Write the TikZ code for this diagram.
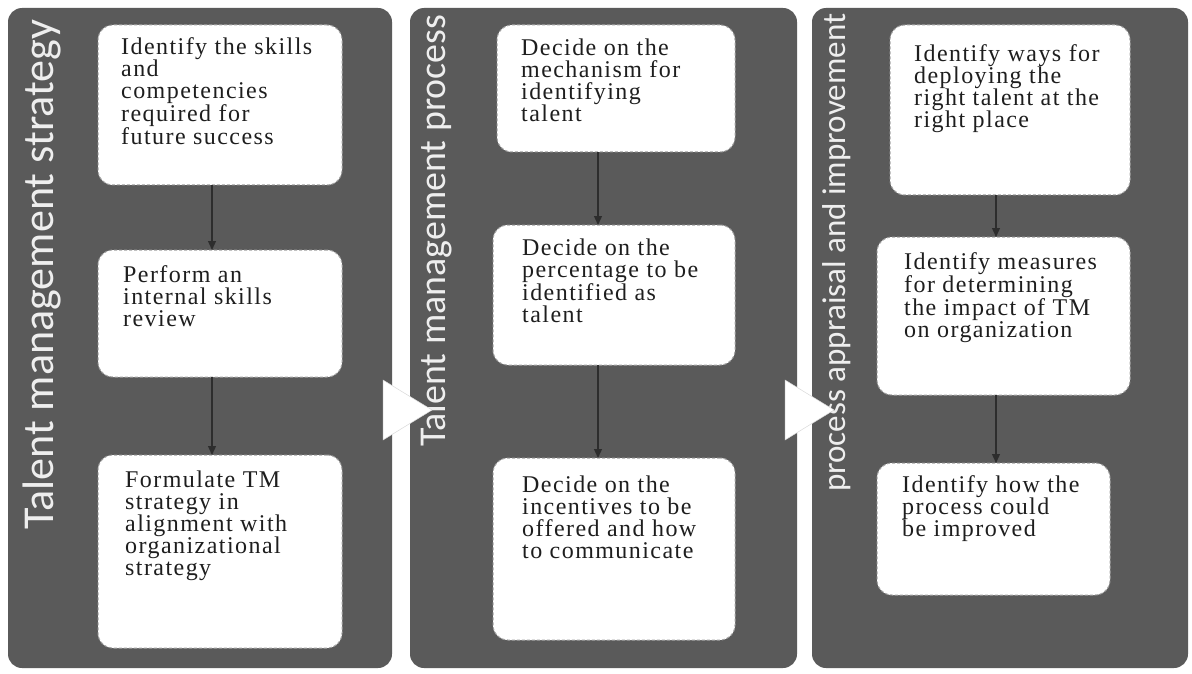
\documentclass[tikz,border=0pt]{standalone}
\usepackage{fontspec}
\setmainfont{Liberation Serif}
\newfontfamily\labelfont{Carlito}
\newfontfamily\boxfont{Liberation Serif}[LetterSpace=6]
\usetikzlibrary{arrows.meta}
\definecolor{panelgray}{RGB}{90,90,90}
\definecolor{textdark}{RGB}{30,30,30}
\definecolor{dashgray}{RGB}{160,160,160}
\definecolor{labelwhite}{RGB}{238,238,238}
\definecolor{arrowgray}{RGB}{45,45,45}
\tikzset{
  panel/.style={fill=panelgray, rounded corners=14pt, anchor=north west, inner sep=0pt, outer sep=0pt},
  stepbox/.style={fill=white, draw=dashgray, line width=1pt, dash pattern=on 3pt off 2pt, rounded corners=15pt, anchor=north west, inner sep=0pt, outer sep=0pt},
  boxtext/.style={anchor=north west, inner sep=0pt, align=left, text=textdark, font=\boxfont\fontsize{24pt}{22pt}\selectfont},
  lbl/.style={rotate=90, anchor=base west, inner sep=0pt, text=labelwhite, font=\labelfont},
  arr/.style={draw=arrowgray, line width=1.3pt, -{Triangle[length=9pt,width=8pt]}},
  tri/.style={fill=white, draw=white!85!black, line width=0.5pt}
}
\begin{document}
\begin{tikzpicture}[x=1pt, y=-1pt]
\useasboundingbox (0,0) rectangle (1192,674);
% panels
\node[panel, minimum width=384, minimum height=660] (p1) at (8,8) {};
\node[panel, minimum width=387, minimum height=660] (p2) at (410,8) {};
\node[panel, minimum width=376, minimum height=660] (p3) at (812,8) {};
% vertical labels
\node[lbl] (l1) at (53,530) {\resizebox{510pt}{!}{Talent management strategy}};
\node[lbl] (l2) at (445,447) {\resizebox{432pt}{!}{Talent management process}};
\node[lbl] (l3) at (845,492) {\resizebox{478pt}{!}{process appraisal and improvement}};
% boxes panel 1
\node[stepbox, minimum width=244, minimum height=160] (b11) at (98,25) {};
\node[stepbox, minimum width=244, minimum height=127] (b12) at (98,250) {};
\node[stepbox, minimum width=244, minimum height=193] (b13) at (98,455) {};
% boxes panel 2
\node[stepbox, minimum width=238, minimum height=127] (b21) at (497,25) {};
\node[stepbox, minimum width=242, minimum height=140] (b22) at (493,225) {};
\node[stepbox, minimum width=242, minimum height=182] (b23) at (493,458) {};
% boxes panel 3
\node[stepbox, minimum width=240, minimum height=170] (b31) at (890,25) {};
\node[stepbox, minimum width=253, minimum height=158] (b32) at (877,237) {};
\node[stepbox, minimum width=233, minimum height=132] (b33) at (877,463) {};
% texts
\node[boxtext] (t11) at (121,37) {Identify the skills\\and\\competencies\\required for\\future success};
\node[boxtext] (t12) at (123,265) {Perform an\\internal skills\\review};
\node[boxtext] (t13) at (125,471) {Formulate TM\\strategy in\\alignment with\\organizational\\strategy};
\node[boxtext] (t21) at (521,39) {Decide on the\\mechanism for\\identifying\\talent};
\node[boxtext] (t22) at (522,239) {Decide on the\\percentage to be\\identified as\\talent};
\node[boxtext] (t23) at (522,476) {Decide on the\\incentives to be\\offered and how\\to communicate};
\node[boxtext] (t31) at (914,44) {Identify ways for\\deploying the\\right talent at the\\right place};
\node[boxtext] (t32) at (904,252) {Identify measures\\for determining\\the impact of TM\\on organization};
\node[boxtext] (t33) at (902,475) {Identify how the\\process could\\be improved};
% arrows
\coordinate (c1) at (212,0);
\coordinate (c2) at (598,0);
\coordinate (c3) at (996,0);
\draw[arr] (b11.south -| c1) -- (b12.north -| c1);
\draw[arr] (b12.south -| c1) -- (b13.north -| c1);
\draw[arr] (b21.south -| c2) -- (b22.north -| c2);
\draw[arr] (b22.south -| c2) -- (b23.north -| c2);
\draw[arr] (b31.south -| c3) -- (b32.north -| c3);
\draw[arr] (b32.south -| c3) -- (b33.north -| c3);
% transition triangles
\draw[tri] (383,380) -- (383,440) -- (432,410) -- cycle;
\draw[tri] (785,380) -- (785,440) -- (834,410) -- cycle;
\end{tikzpicture}
\end{document}
